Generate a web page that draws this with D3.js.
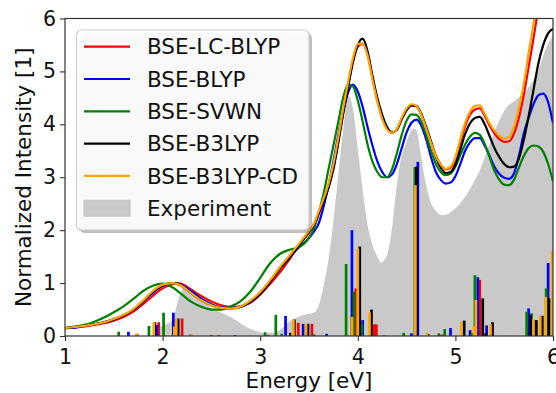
<!DOCTYPE html>
<html>
<head>
<meta charset="utf-8">
<script src="https://cdn.jsdelivr.net/npm/d3@7"></script>
<style>
  html, body { margin: 0; padding: 0; background: #fff; }
  svg { display: block; font-family: "DejaVu Sans", sans-serif; }
</style>
</head>
<body>
<svg id="chart" width="556" height="393"></svg>
<script>
// Absorption spectra: broadened BSE curves, stick transitions and the measured spectrum
const seriesNames = ["BSE-LC-BLYP", "BSE-BLYP", "BSE-SVWN", "BSE-B3LYP", "BSE-B3LYP-CD"];
const seriesColors = ["#ff0000", "#0000ff", "#008000", "#000000", "#ffa500"];
const experimentName = "Experiment";
const xTicks = [1, 2, 3, 4, 5, 6];
const yTicks = [0, 1, 2, 3, 4, 5, 6];

// broadened spectra, [energy eV, normalized intensity]
const curveLcBlyp = [[1.0,0.15],[1.1,0.16],[1.2,0.18],[1.3,0.21],[1.4,0.24],[1.5,0.29],[1.6,0.36],[1.7,0.46],[1.8,0.6],[1.9,0.76],[2.0,0.9],[2.1,0.98],[2.15,1.0],[2.2,0.98],[2.3,0.87],[2.4,0.75],[2.5,0.65],[2.6,0.58],[2.7,0.55],[2.8,0.56],[2.9,0.63],[3.0,0.78],[3.1,0.98],[3.2,1.2],[3.3,1.45],[3.4,1.72],[3.5,1.95],[3.55,2.08],[3.6,2.3],[3.65,2.55],[3.7,2.83],[3.75,3.18],[3.8,3.68],[3.85,4.22],[3.9,4.72],[3.95,5.18],[4.0,5.47],[4.05,5.52],[4.1,5.32],[4.15,4.88],[4.2,4.45],[4.25,4.12],[4.3,3.92],[4.35,3.84],[4.4,3.9],[4.45,4.1],[4.5,4.27],[4.55,4.36],[4.6,4.34],[4.65,4.18],[4.7,3.93],[4.75,3.66],[4.8,3.41],[4.85,3.24],[4.9,3.15],[4.95,3.18],[5.0,3.34],[5.05,3.66],[5.1,3.97],[5.15,4.18],[5.2,4.28],[5.25,4.3],[5.3,4.16],[5.35,3.98],[5.4,3.83],[5.45,3.72],[5.5,3.67],[5.55,3.68],[5.6,3.82],[5.65,4.12],[5.7,4.55],[5.75,5.08],[5.8,5.62],[5.85,6.2],[5.9,6.8]];
const curveBlyp = [[1.0,0.15],[1.1,0.16],[1.2,0.19],[1.3,0.22],[1.4,0.26],[1.5,0.32],[1.6,0.39],[1.7,0.5],[1.8,0.65],[1.9,0.82],[2.0,0.95],[2.1,1.0],[2.2,0.96],[2.3,0.84],[2.4,0.7],[2.5,0.6],[2.6,0.54],[2.7,0.53],[2.8,0.56],[2.9,0.64],[3.0,0.8],[3.1,1.03],[3.2,1.28],[3.3,1.5],[3.4,1.68],[3.5,1.85],[3.55,1.97],[3.6,2.13],[3.65,2.45],[3.7,2.85],[3.75,3.3],[3.8,3.8],[3.85,4.25],[3.9,4.6],[3.95,4.75],[4.0,4.62],[4.05,4.33],[4.1,3.95],[4.15,3.6],[4.2,3.3],[4.25,3.1],[4.3,3.0],[4.35,3.05],[4.4,3.25],[4.45,3.55],[4.5,3.85],[4.55,4.03],[4.6,4.09],[4.65,3.98],[4.7,3.72],[4.75,3.38],[4.8,3.1],[4.85,2.95],[4.9,2.88],[4.95,2.9],[5.0,3.02],[5.05,3.25],[5.1,3.5],[5.15,3.66],[5.2,3.74],[5.25,3.74],[5.3,3.6],[5.35,3.4],[5.4,3.2],[5.45,3.06],[5.5,2.99],[5.55,2.97],[5.6,3.07],[5.65,3.4],[5.7,3.82],[5.75,4.12],[5.8,4.38],[5.85,4.55],[5.9,4.58],[5.95,4.42],[6.0,4.02]];
const curveSvwn = [[1.0,0.15],[1.1,0.18],[1.2,0.21],[1.3,0.27],[1.4,0.35],[1.5,0.45],[1.6,0.56],[1.7,0.7],[1.8,0.85],[1.9,0.95],[2.0,0.99],[2.1,0.92],[2.2,0.78],[2.3,0.64],[2.4,0.55],[2.5,0.5],[2.6,0.5],[2.7,0.56],[2.8,0.66],[2.9,0.84],[3.0,1.1],[3.1,1.37],[3.2,1.55],[3.3,1.63],[3.4,1.68],[3.5,1.86],[3.55,2.03],[3.6,2.33],[3.65,2.7],[3.7,3.15],[3.75,3.6],[3.8,4.05],[3.85,4.5],[3.9,4.75],[3.95,4.72],[4.0,4.45],[4.05,4.05],[4.1,3.62],[4.15,3.3],[4.2,3.1],[4.25,3.0],[4.3,3.0],[4.35,3.15],[4.4,3.45],[4.45,3.8],[4.5,4.07],[4.55,4.19],[4.6,4.18],[4.65,4.05],[4.7,3.8],[4.75,3.5],[4.8,3.25],[4.85,3.1],[4.9,3.04],[4.95,3.07],[5.0,3.2],[5.05,3.42],[5.1,3.62],[5.15,3.77],[5.2,3.84],[5.25,3.8],[5.3,3.63],[5.35,3.38],[5.4,3.12],[5.45,2.95],[5.5,2.86],[5.55,2.85],[5.6,2.95],[5.65,3.18],[5.7,3.4],[5.75,3.55],[5.8,3.6],[5.85,3.58],[5.9,3.48],[5.95,3.25],[6.0,2.92]];
const curveB3lyp = [[1.0,0.15],[1.1,0.17],[1.2,0.19],[1.3,0.22],[1.4,0.26],[1.5,0.31],[1.6,0.39],[1.7,0.5],[1.8,0.66],[1.9,0.84],[2.0,0.96],[2.1,1.0],[2.2,0.94],[2.3,0.8],[2.4,0.67],[2.5,0.58],[2.6,0.53],[2.7,0.52],[2.8,0.55],[2.9,0.65],[3.0,0.8],[3.1,1.02],[3.2,1.27],[3.3,1.48],[3.4,1.72],[3.5,1.97],[3.55,2.1],[3.6,2.33],[3.65,2.55],[3.7,2.8],[3.75,3.15],[3.8,3.65],[3.85,4.2],[3.9,4.7],[3.95,5.18],[4.0,5.5],[4.05,5.62],[4.1,5.38],[4.15,4.92],[4.2,4.5],[4.25,4.18],[4.3,3.95],[4.35,3.85],[4.4,3.9],[4.45,4.1],[4.5,4.27],[4.55,4.36],[4.6,4.35],[4.65,4.2],[4.7,3.95],[4.75,3.68],[4.8,3.38],[4.85,3.18],[4.9,3.08],[4.95,3.1],[5.0,3.24],[5.05,3.52],[5.1,3.82],[5.15,4.02],[5.2,4.12],[5.25,4.14],[5.3,4.0],[5.35,3.78],[5.4,3.55],[5.45,3.38],[5.5,3.25],[5.55,3.19],[5.6,3.2],[5.65,3.35],[5.7,3.7],[5.75,4.15],[5.8,4.65],[5.85,5.15],[5.9,5.5],[5.95,5.72],[6.0,5.8]];
const curveB3lypCd = [[1.0,0.15],[1.1,0.17],[1.2,0.19],[1.3,0.22],[1.4,0.26],[1.5,0.32],[1.6,0.4],[1.7,0.51],[1.8,0.67],[1.9,0.85],[2.0,0.97],[2.1,1.0],[2.2,0.94],[2.3,0.8],[2.4,0.67],[2.5,0.58],[2.6,0.53],[2.7,0.52],[2.8,0.56],[2.9,0.67],[3.0,0.83],[3.1,1.05],[3.2,1.3],[3.3,1.52],[3.4,1.75],[3.5,1.99],[3.55,2.12],[3.6,2.36],[3.65,2.6],[3.7,2.88],[3.75,3.25],[3.8,3.75],[3.85,4.3],[3.9,4.8],[3.95,5.25],[4.0,5.52],[4.05,5.53],[4.1,5.3],[4.15,4.85],[4.2,4.43],[4.25,4.1],[4.3,3.9],[4.35,3.84],[4.4,3.92],[4.45,4.13],[4.5,4.3],[4.55,4.38],[4.6,4.35],[4.65,4.18],[4.7,3.92],[4.75,3.65],[4.8,3.4],[4.85,3.24],[4.9,3.16],[4.95,3.2],[5.0,3.38],[5.05,3.72],[5.1,4.03],[5.15,4.24],[5.2,4.35],[5.25,4.36],[5.3,4.2],[5.35,4.02],[5.4,3.88],[5.45,3.78],[5.5,3.73],[5.55,3.76],[5.6,3.95],[5.65,4.3],[5.7,4.75],[5.75,5.35],[5.8,5.9],[5.85,6.5]];

// measured spectrum
const experiment = [[1.0,0],[1.88,0],[1.93,0.1],[2.0,0.2],[2.08,0.26],[2.12,0.4],[2.16,0.68],[2.2,0.88],[2.24,0.97],[2.28,0.9],[2.35,0.75],[2.45,0.6],[2.55,0.48],[2.65,0.4],[2.75,0.3],[2.85,0.18],[2.95,0.1],[3.05,0.06],[3.15,0.06],[3.22,0.14],[3.3,0.28],[3.4,0.37],[3.5,0.42],[3.56,0.45],[3.6,0.58],[3.65,0.95],[3.7,1.45],[3.75,2.16],[3.8,3.05],[3.85,3.9],[3.9,4.55],[3.95,4.3],[4.0,3.54],[4.05,2.75],[4.1,2.1],[4.15,1.72],[4.2,1.5],[4.24,1.39],[4.3,1.53],[4.35,2.03],[4.38,2.53],[4.43,3.23],[4.5,3.67],[4.57,3.92],[4.6,3.9],[4.64,3.5],[4.7,2.85],[4.77,2.44],[4.88,2.28],[4.98,2.38],[5.12,2.69],[5.25,3.13],[5.39,3.82],[5.53,4.33],[5.61,4.45],[5.75,4.7],[5.85,5.02],[5.92,5.4],[6.0,5.68]];

// stick transitions, [energy eV, oscillator strength (normalized)]
const sticksLcBlyp = [[1.74,0.04],[1.96,0.26],[2.2,0.33],[2.29,0.03],[2.5,0.015],[2.58,0.015],[3.08,0.02],[3.39,0.25],[3.53,0.23],[3.98,0.9],[4.17,0.22],[4.19,0.22],[4.27,0.01],[4.6,3.05],[4.86,0.03],[5.25,1.06],[5.3,0.04],[5.87,0.38]];
const sticksBlyp = [[1.65,0.08],[1.94,0.21],[2.11,0.44],[2.74,0.015],[3.26,0.38],[3.44,0.23],[3.68,0.04],[3.94,2.0],[4.05,0.3],[4.55,0.05],[4.615,3.29],[4.95,0.15],[5.15,0.11],[5.23,1.11],[5.32,0.2],[5.75,0.52],[5.81,0.3],[5.95,1.38]];
const sticksSvwn = [[1.55,0.08],[1.86,0.19],[2.01,0.44],[3.05,0.07],[3.16,0.4],[3.22,0.04],[3.55,0.03],[3.88,1.36],[3.96,0.84],[4.04,0.24],[4.47,0.06],[4.585,3.19],[4.83,0.05],[4.89,0.13],[5.17,0.06],[5.2,1.15],[5.73,0.46],[5.78,0.43],[5.93,0.9]];
const sticksB3lyp = [[1.92,0.26],[2.13,0.18],[2.16,0.33],[3.31,0.06],[3.35,0.31],[3.49,0.23],[4.02,1.69],[4.14,0.5],[4.6,3.2],[4.72,0.04],[5.09,0.29],[5.28,0.71],[5.31,0.05],[5.38,0.26],[5.77,0.4],[5.83,0.3],[5.89,0.38],[5.96,0.71]];
const sticksB3lypCd = [[1.73,0.05],[1.91,0.26],[2.12,0.18],[2.14,0.33],[2.3,0.03],[3.33,0.06],[3.34,0.31],[3.47,0.23],[3.94,0.36],[4.0,1.65],[4.12,0.45],[4.59,2.85],[4.71,0.05],[5.06,0.27],[5.19,0.18],[5.21,0.68],[5.36,0.22],[5.53,0.01],[5.8,0.32],[5.87,0.38],[5.925,0.74],[5.99,1.6]];

const curves = [curveLcBlyp, curveBlyp, curveSvwn, curveB3lyp, curveB3lypCd];
const sticks = [sticksLcBlyp, sticksBlyp, sticksSvwn, sticksB3lyp, sticksB3lypCd];

const svg = d3.select("#chart");
const plot = { left: 65, right: 553, top: 18.5, bottom: 336 };
const x = d3.scaleLinear().domain([1, 6]).range([plot.left, plot.right]);
const y = d3.scaleLinear().domain([0, 6]).range([plot.bottom, plot.top]);

svg.append("defs").append("clipPath").attr("id", "plotClip")
  .append("rect")
  .attr("x", plot.left).attr("y", plot.top)
  .attr("width", plot.right - plot.left).attr("height", plot.bottom - plot.top);

const body = svg.append("g").attr("clip-path", "url(#plotClip)");

// measured spectrum as a filled area
body.append("path")
  .datum(experiment)
  .attr("fill", "#c9c9c9")
  .attr("d", d3.area().x(d => x(d[0])).y0(y(0)).y1(d => y(d[1])).curve(d3.curveMonotoneX));

// stick spectra
const barW = 2.7;
sticks.forEach((s, i) => {
  body.append("g").selectAll("rect").data(s).join("rect")
    .attr("x", d => x(d[0]) - barW / 2)
    .attr("width", barW)
    .attr("y", d => y(d[1]))
    .attr("height", d => y(0) - y(d[1]))
    .attr("fill", seriesColors[i]);
});

// broadened spectra
const line = d3.line().x(d => x(d[0])).y(d => y(d[1])).curve(d3.curveMonotoneX);
curves.forEach((c, i) => {
  body.append("path").datum(c)
    .attr("fill", "none")
    .attr("stroke", seriesColors[i])
    .attr("stroke-width", 2.2)
    .attr("d", line);
});

// axes
const xAxis = svg.append("g").attr("transform", `translate(0,${plot.bottom})`)
  .call(d3.axisBottom(x).tickValues(xTicks).tickFormat(d3.format("d")).tickSize(5).tickPadding(8));
const yAxis = svg.append("g").attr("transform", `translate(${plot.left},0)`)
  .call(d3.axisLeft(y).tickValues(yTicks).tickFormat(d3.format("d")).tickSize(5).tickPadding(4));
[xAxis, yAxis].forEach(a => {
  a.select(".domain").remove();
  a.selectAll(".tick line").attr("stroke", "#333").attr("stroke-width", 1.1);
  a.selectAll(".tick text").attr("font-family", "DejaVu Sans").attr("font-size", 20.5).attr("fill", "#111");
});

// frame
svg.append("rect")
  .attr("x", plot.left).attr("y", plot.top)
  .attr("width", plot.right - plot.left).attr("height", plot.bottom - plot.top)
  .attr("fill", "none").attr("stroke", "#333").attr("stroke-width", 1.2);

// axis titles
svg.append("text")
  .attr("x", (plot.left + plot.right) / 2).attr("y", 388)
  .attr("text-anchor", "middle").attr("font-size", 21.5).attr("fill", "#111")
  .text("Energy [eV]");
svg.append("text")
  .attr("transform", `translate(31,${(plot.top + plot.bottom) / 2}) rotate(-90)`)
  .attr("text-anchor", "middle").attr("font-size", 21.5).attr("fill", "#111")
  .text("Normalized Intensity [1]");

// legend
const lg = svg.append("g");
const box = { x: 76.5, y: 30, w: 232.5, h: 200 };
lg.append("rect")
  .attr("x", box.x + 3).attr("y", box.y + 3).attr("width", box.w).attr("height", box.h)
  .attr("rx", 5).attr("fill", "#808080").attr("opacity", 0.5);
lg.append("rect")
  .attr("x", box.x).attr("y", box.y).attr("width", box.w).attr("height", box.h)
  .attr("rx", 5).attr("fill", "#fff").attr("fill-opacity", 0.9)
  .attr("stroke", "#cccccc").attr("stroke-width", 1.2);
const rowY = i => 46.7 + i * 32.3;
seriesNames.forEach((name, i) => {
  lg.append("line")
    .attr("x1", 84).attr("x2", 130).attr("y1", rowY(i)).attr("y2", rowY(i))
    .attr("stroke", seriesColors[i]).attr("stroke-width", 2.2);
  lg.append("text")
    .attr("x", 147).attr("y", rowY(i)).attr("dy", "0.36em")
    .attr("font-size", 21.5).attr("fill", "#111").text(name);
});
lg.append("rect")
  .attr("x", 84).attr("y", rowY(5) - 8).attr("width", 46).attr("height", 16)
  .attr("fill", "#c9c9c9").attr("stroke", "#bdbdbd").attr("stroke-width", 0.8);
lg.append("text")
  .attr("x", 147).attr("y", rowY(5)).attr("dy", "0.36em")
  .attr("font-size", 21.5).attr("fill", "#111").text(experimentName);
</script>
</body>
</html>
